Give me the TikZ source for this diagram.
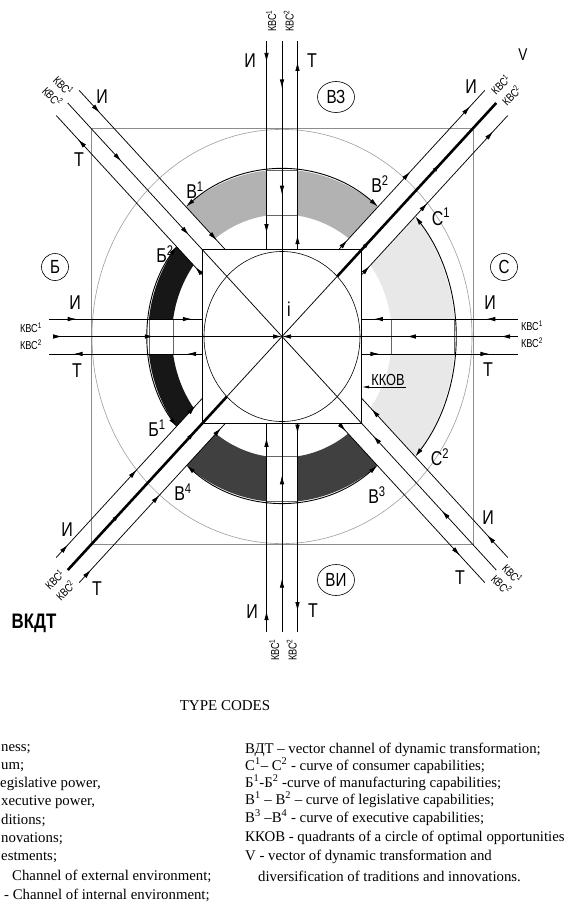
\documentclass[tikz,border=0pt]{standalone}
\usepackage{fontspec}
\setmainfont{Liberation Serif}
\newfontfamily\cad[FakeStretch=0.8]{Liberation Sans}
\usetikzlibrary{arrows.meta,decorations.markings,shapes.geometric}
\definecolor{bandtop}{gray}{0.70}
\definecolor{bandright}{gray}{0.91}
\definecolor{bandbot}{gray}{0.25}
\definecolor{bandleft}{gray}{0.09}
\definecolor{ringgray}{gray}{0.62}
\definecolor{sqgray}{gray}{0.55}
\tikzset{
  chan/.style={line width=0.75pt},
  thickchan/.style={line width=2.6pt},
  ar/.style={postaction={decorate,decoration={markings,mark=at position #1 with {\arrow{Latex[length=9pt,width=4.5pt]}}}}},
  bandarc/.style={line width=0.9pt,{Latex[length=9pt,width=4.5pt]}-{Latex[length=9pt,width=4.5pt]}},
  gapline/.style={line width=0.5pt,black!60},
  lab/.style={font=\cad\fontsize{20}{20}\selectfont,inner sep=0pt},
  kbc/.style={font=\cad\fontsize{11.5}{#1}\selectfont,inner sep=0pt,align=center},
  kbc/.default=15.5,
  circlab/.style={draw,line width=0.6pt,ellipse,inner sep=0pt,font=\cad\fontsize{19}{19}\selectfont},
  legend/.style={font=\fontsize{14.8}{17}\selectfont,anchor=base west,inner sep=0pt},
}
\begin{document}
\begin{tikzpicture}[x=1pt,y=-1pt]
\useasboundingbox (0,0) rectangle (570,903);
\fill[white] (0,0) rectangle (570,903);

\begin{scope}[shift={(282pt,-336.5pt)},x=1pt,y=1.09pt]
% ---------- bands
\begin{scope}
 \clip (0,23) -- (340,363) -- (-340,363) -- cycle;
 \fill[bandtop,even odd rule] (0,0) circle[radius=153] (0,0) circle[radius=112];
\end{scope}
\begin{scope}
 \clip (23,0) -- (363,340) -- (363,-340) -- cycle;
 \fill[bandright,even odd rule] (0,0) circle[radius=173] (0,0) circle[radius=110];
\end{scope}
\begin{scope}
 \clip (0,-23) -- (340,-363) -- (-340,-363) -- cycle;
 \fill[bandbot,even odd rule] (0,0) circle[radius=152] (0,0) circle[radius=111];
\end{scope}
\begin{scope}
 \clip (-23,0) -- (-363,340) -- (-363,-340) -- cycle;
 \fill[bandleft,even odd rule] (0,0) circle[radius=134] (0,0) circle[radius=110];
\end{scope}
% ---------- gaps of the straight channels
\fill[white] (-15.5,104) rectangle (15.5,160);
\fill[white] (-15.5,-104) rectangle (15.5,-160);
\fill[white] (-140,-16) rectangle (-100,16);
\fill[white] (100,-16) rectangle (180,16);
\draw[gapline] (-15.5,152.2) -- (15.5,152.2) (-15.5,110.9) -- (15.5,110.9);
\draw[gapline] (-15.5,-151.2) -- (15.5,-151.2) (-15.5,-109.9) -- (15.5,-109.9);
\draw[gapline] (-133,-16) -- (-133,16) (-108.8,-16) -- (-108.8,16);
\draw[gapline] (108.8,-16) -- (108.8,16) (172.3,-16) -- (172.3,16);
% ---------- squares and circles
\draw[sqgray,line width=0.8pt] (-191,-191) rectangle (191,191);
\draw[ringgray,line width=0.6pt] (0,0) circle[radius=190];
\draw[line width=0.8pt] (-79.5,-79.5) rectangle (79.5,79.5);
\draw[line width=0.6pt] (0,0) circle[radius=78];
% ---------- coordinates
\coordinate (O) at (0,0);
\coordinate (tI1) at (-15.5,271); \coordinate (tI2) at (-15.5,79.5);
\coordinate (tM1) at (0,271);
\coordinate (tT1) at (15.5,79.5); \coordinate (tT2) at (15.5,271);
\coordinate (bI1) at (-15.5,-271); \coordinate (bI2) at (-15.5,-79.5);
\coordinate (bM1) at (0,-271);
\coordinate (bT1) at (15.5,-79.5); \coordinate (bT2) at (15.5,-271);
\coordinate (lI1) at (-233,16); \coordinate (lI2) at (-79.5,16);
\coordinate (lM1) at (-229,0);
\coordinate (lT1) at (-79.5,-16); \coordinate (lT2) at (-233,-16);
\coordinate (rI1) at (235.5,16); \coordinate (rI2) at (79.5,16);
\coordinate (rM1) at (235.5,0);
\coordinate (rT1) at (79.5,-16); \coordinate (rT2) at (235.5,-16);
\coordinate (neI1) at (56.5,79.5); \coordinate (neI2) at (202.75,225.75);
\coordinate (neM1) at (55.15,55.15); \coordinate (neM2) at (214.25,214.25);
\coordinate (neT1) at (79.5,56.5); \coordinate (neT2) at (225.75,202.75);
\coordinate (swI1) at (-225.75,-202.75); \coordinate (swI2) at (-79.5,-56.5);
\coordinate (swM1) at (-214.25,-214.25); \coordinate (swM2) at (-55.15,-55.15);
\coordinate (swT1) at (-202.75,-225.75); \coordinate (swT2) at (-56.5,-79.5);
\coordinate (nwI1) at (-202.75,225.75); \coordinate (nwI2) at (-56.5,79.5);
\coordinate (nwM1) at (-214.25,214.25);
\coordinate (nwT1) at (-79.5,56.5); \coordinate (nwT2) at (-225.75,202.75);
\coordinate (seI1) at (225.75,-202.75); \coordinate (seI2) at (79.5,-56.5);
\coordinate (seM1) at (214.25,-214.25);
\coordinate (seT1) at (56.5,-79.5); \coordinate (seT2) at (202.75,-225.75);
\coordinate (sqSW) at (-79.5,-79.5); \coordinate (sqNE) at (79.5,79.5);
% ---------- channel lines
\draw[chan,ar=0.1,ar=0.92] (tI1) -- (tI2);
\draw[chan,ar=0.16,ar=0.52] (tM1) -- (O);
\draw[chan,ar=0.07,ar=0.9] (tT1) -- (tT2);
\draw[chan,ar=0.1,ar=0.93] (bI1) -- (bI2);
\draw[chan,ar=0.18,ar=0.53] (bM1) -- (O);
\draw[chan,ar=0.05,ar=0.9] (bT1) -- (bT2);
\draw[chan,ar=0.18,ar=0.93] (lI1) -- (lI2);
\draw[chan,ar=0.04,ar=0.44,-{Latex[length=9pt,width=4.5pt]}] (lM1) -- (O);
\draw[chan,ar=0.1,ar=0.84] (lT1) -- (lT2);
\draw[chan,ar=0.2,ar=0.92] (rI1) -- (rI2);
\draw[chan,ar=0.07,ar=0.47,-{Latex[length=9pt,width=4.5pt]}] (rM1) -- (O);
\draw[chan,ar=0.115,ar=0.82] (rT1) -- (rT2);
% diagonals
\draw[chan] (sqSW) -- (sqNE);
\draw[chan,ar=0.06,ar=0.49,ar=0.9] (neI1) -- (neI2);
\draw[thickchan,ar=0.21,ar=0.65] (neM1) -- (neM2);
\draw[chan,ar=0.055,ar=0.45,ar=0.9] (neT1) -- (neT2);
\draw[chan,ar=0.08,ar=0.55,ar=0.95] (swI1) -- (swI2);
\draw[thickchan,ar=0.33,ar=0.8] (swM1) -- (swM2);
\draw[chan,ar=0.08,ar=0.55,ar=0.97] (swT1) -- (swT2);
\draw[chan,ar=0.14,ar=0.94] (nwI1) -- (nwI2);
\draw[chan,ar=0.25,ar=0.565] (nwM1) -- (O);
\draw[chan,ar=0.05,ar=0.85] (nwT1) -- (nwT2);
\draw[chan,ar=0.14,ar=0.93] (seI1) -- (seI2);
\draw[chan,ar=0.254,ar=0.574] (seM1) -- (O);
\draw[chan,ar=0.05,ar=0.83] (seT1) -- (seT2);
% ---------- curves of capabilities
\draw[bandarc] (51.14:153) arc[start angle=51.14,end angle=128.86,radius=153];
\draw[bandarc] (-39.61:173) arc[start angle=-39.61,end angle=39.61,radius=173];
\draw[bandarc] (231.14:152) arc[start angle=231.14,end angle=308.86,radius=152];
\draw[bandarc] (141.97:134) arc[start angle=141.97,end angle=218.03,radius=134];
\end{scope}

% ---------- channel labels
\node[lab] (tIl) at (250,61) {И};
\node[lab] (tTl) at (312,61) {Т};
\node[kbc=17.5,rotate=90] (tK) at (280,21) {КВС\textsuperscript{1}\\КВС\textsuperscript{2}};
\node[lab] (bIl) at (252,612) {И};
\node[lab] (bTl) at (313,611) {Т};
\node[kbc=17.5,rotate=90] (bK) at (283,650) {КВС\textsuperscript{1}\\КВС\textsuperscript{2}};
\node[lab] (lIl) at (75,303) {И};
\node[lab] (lTl) at (77,371) {Т};
\node[kbc=17] (lK) at (31,336.5) {КВС\textsuperscript{1}\\КВС\textsuperscript{2}};
\node[lab] (rIl) at (490,303) {И};
\node[lab] (rTl) at (488,370) {Т};
\node[kbc=17] (rK) at (532,334) {КВС\textsuperscript{1}\\КВС\textsuperscript{2}};
\node[lab] (neIl) at (471,87) {И};
\node[kbc,rotate=45] (neK) at (506,90) {КВС\textsuperscript{1}\\КВС\textsuperscript{2}};
\node[lab,font=\cad\fontsize{17}{17}\selectfont] (vlab) at (523,55) {V};
\node[lab] (nwIl) at (102,97) {И};
\node[lab] (nwTl) at (79,160) {Т};
\node[kbc,rotate=-45] (nwK) at (58,91) {КВС\textsuperscript{1}\\КВС\textsuperscript{2}};
\node[lab] (swIl) at (67,530) {И};
\node[lab] (swTl) at (97,589) {Т};
\node[kbc,rotate=45] (swK) at (60,585) {КВС\textsuperscript{1}\\КВС\textsuperscript{2}};
\node[lab] (seIl) at (488,518) {И};
\node[lab] (seTl) at (460,578) {Т};
\node[kbc,rotate=-45] (seK) at (507,579) {КВС\textsuperscript{1}\\КВС\textsuperscript{2}};
% ---------- curve labels
\node[lab] (B1) at (195,190) {В\textsuperscript{1}};
\node[lab] (B2) at (380,184) {В\textsuperscript{2}};
\node[lab] (Bb2) at (165,254) {Б\textsuperscript{2}};
\node[lab] (Bb1) at (157,428) {Б\textsuperscript{1}};
\node[lab] (B4) at (183,492) {В\textsuperscript{4}};
\node[lab] (B3) at (377,495) {В\textsuperscript{3}};
\node[lab] (C2) at (440,457) {С\textsuperscript{2}};
\node[lab] (C1) at (441,217) {С\textsuperscript{1}};
% ---------- circled labels
\node[circlab,minimum width=37pt,minimum height=31pt] (cVZ) at (336,97) {ВЗ};
\node[circlab,minimum width=27pt,minimum height=27pt] (cB) at (55,267) {Б};
\node[circlab,minimum width=27pt,minimum height=27pt] (cS) at (504,267) {С};
\node[circlab,minimum width=37pt,minimum height=31pt] (cVI) at (336,580) {ВИ};
% ---------- centre and KKOB
\node[lab] (ilab) at (289,309) {i};
\node[font=\cad\fontsize{16}{16}\selectfont,inner sep=1pt,anchor=south] (kkov) at (388,387) {ККОВ};
\coordinate (kkovtip) at (362,387);
\draw[line width=0.7pt,-{Latex[length=7pt,width=3pt]}] (kkov.south east) -- (kkov.south east -| kkovtip);
\node[font=\cad\bfseries\fontsize{21}{21}\selectfont,inner sep=0pt] (vkdt) at (34,623) {ВКДТ};
% ---------- legend
\node[font=\fontsize{15}{15}\selectfont,inner sep=0pt] (tc) at (225,706) {TYPE CODES};
\node[legend] (l1) at (1,751) {ness;};
\node[legend] (l2) at (1,769) {um;};
\node[legend] (l3) at (0,787) {egislative power,};
\node[legend] (l4) at (1,805) {xecutive power,};
\node[legend] (l5) at (1,824) {ditions;};
\node[legend] (l6) at (1,842) {novations;};
\node[legend] (l7) at (1,860) {estments;};
\node[legend] (l8) at (12,880) {Channel of external environment;};
\node[legend] (l9) at (4,899) {- Channel of internal environment;};
\node[legend] (r1) at (245,753) {ВДТ – vector channel of dynamic transformation;};
\node[legend] (r2) at (245,770) {С\textsuperscript{1}– С\textsuperscript{2} - curve of consumer capabilities;};
\node[legend] (r3) at (245,787) {Б\textsuperscript{1}-Б\textsuperscript{2} -curve of manufacturing capabilities;};
\node[legend] (r4) at (245,804) {В\textsuperscript{1} – В\textsuperscript{2} – curve of legislative capabilities;};
\node[legend] (r5) at (245,822) {В\textsuperscript{3} –В\textsuperscript{4} - curve of executive capabilities;};
\node[legend] (r6) at (245,841) {ККОВ - quadrants of a circle of optimal opportunities};
\node[legend] (r7) at (245,860) {V - vector of dynamic transformation and};
\node[legend] (r8) at (258,881) {diversification of traditions and innovations.};
\end{tikzpicture}
\end{document}
